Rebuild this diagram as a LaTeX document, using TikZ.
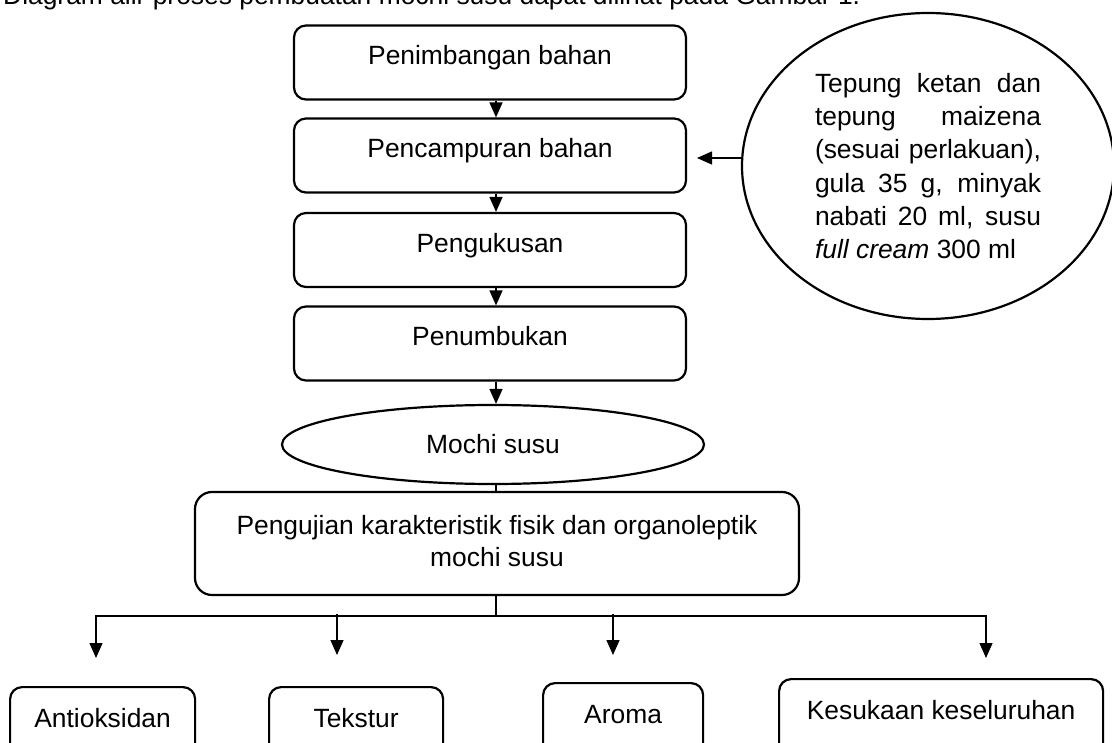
\documentclass[tikz,border=0pt]{standalone}
\usepackage{fontspec}
\setmainfont{Liberation Sans}
\usetikzlibrary{arrows.meta,shapes.geometric}
\begin{document}
\begin{tikzpicture}[x=1pt,y=-1pt,
  every node/.style={font=\fontsize{26.4pt}{32pt}\selectfont, inner sep=0pt},
  stepbox/.style={draw, line width=2.2pt, rounded corners=12pt, minimum width=392pt, text height=39.5pt, text depth=34.5pt},
  testbox/.style={draw, line width=2.2pt, rounded corners=17pt, minimum width=604pt, minimum height=103pt, align=center},
  resbox/.style={draw, line width=2.2pt, rounded corners=12pt, anchor=north west, text height=40.5pt, text depth=40pt},
  oval/.style={draw, ellipse, line width=2.2pt},
  conn/.style={line width=1.3pt},
  arr/.style={conn, -{Triangle[length=15pt,width=13pt]}}]
\useasboundingbox (0,0) rectangle (1112,743);
\clip (0,0) rectangle (1112,743);

\node[anchor=base west] (intro) at (3,5) {Diagram alir proses pembuatan mochi susu dapat dilihat pada Gambar 1.};

% process steps
\node[stepbox] (b1) at (490,62.5) {Penimbangan bahan};
\node[stepbox] (b2) at (490,155.5) {Pencampuran bahan};
\node[stepbox] (b3) at (490,250) {Pengukusan};
\node[stepbox] (b4) at (490,343.5) {Penumbukan};

% ingredients
\node[oval, minimum width=372pt, minimum height=306pt, align=left,
      font=\fontsize{26.4pt}{33.2pt}\selectfont] (ell) at (928,166)
  {\makebox[226pt][s]{Tepung ketan dan}\\
   \makebox[226pt][s]{tepung maizena}\\
   \makebox[226pt][s]{(sesuai perlakuan),}\\
   \makebox[226pt][s]{gula 35 g, minyak}\\
   \makebox[226pt][s]{nabati 20 ml, susu}\\
   \textit{full cream} 300 ml};

% product
\node[oval, minimum width=422pt, minimum height=79pt] (mochi) at (493,444.5) {Mochi susu};

% testing
\node[testbox] (test) at (497,543.5)
  {Pengujian karakteristik fisik dan organoleptik\\mochi susu\rule[-4.5pt]{0pt}{4.5pt}};

% results
\node[resbox, minimum width=185pt] (ant) at (9,686) {Antioksidan};
\node[resbox, minimum width=174pt] (tek) at (268,686) {Tekstur};
\node[resbox, minimum width=160pt] (aro) at (542,682) {Aroma};
\node[resbox, minimum width=324pt] (kes) at (778,678) {Kesukaan keseluruhan};

% connectors
\draw[arr] ([xshift=6pt]b1.south) -- ([xshift=6pt]b2.north);
\draw[arr] ([xshift=6pt]b2.south) -- ([xshift=6pt]b3.north);
\draw[arr] ([xshift=6pt]b3.south) -- ([xshift=6pt]b4.north);
\draw[arr] ([xshift=6pt]b4.south) -- ([xshift=6pt]b4.south |- mochi.north);
\draw[conn] ([xshift=3pt]mochi.south) -- ([xshift=3pt]mochi.south |- test.north);

\coordinate (sidetip) at (697,158);
\draw[arr] ([yshift=8pt]ell.west) -- (sidetip);

\coordinate (J) at (496,616);
\coordinate (antTip) at (96,658);
\coordinate (kesTip) at (986,658);
\coordinate (tekTop) at (337,614);
\coordinate (tekTip) at (337,655);
\coordinate (aroTop) at (613,614);
\coordinate (aroTip) at (613,655);
\draw[conn] (test.south -| J) -- (J);
\draw[arr] (J) -| (antTip);
\draw[arr] (J) -| (kesTip);
\draw[arr] (tekTop) -- (tekTip);
\draw[arr] (aroTop) -- (aroTip);
\end{tikzpicture}
\end{document}
